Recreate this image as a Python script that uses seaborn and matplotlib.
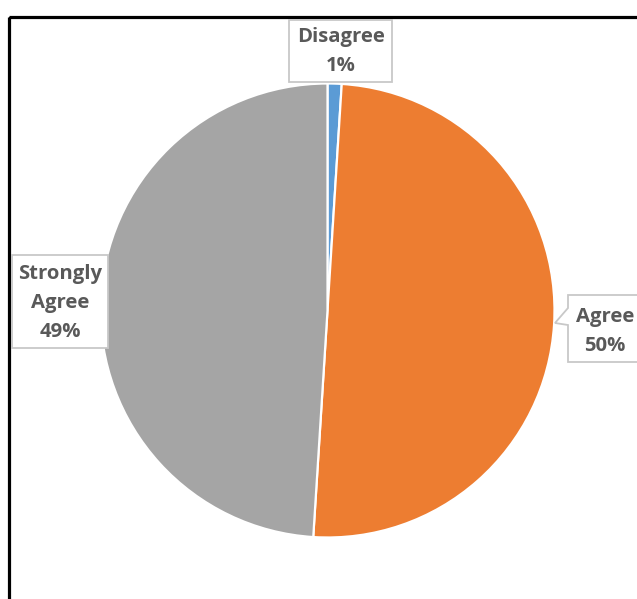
import numpy as np
import matplotlib
matplotlib.use("Agg")
import matplotlib.pyplot as plt
import seaborn as sns
from matplotlib.patches import Rectangle, Polygon

# ==============================
# DATA
# ==============================
labels = ["Disagree", "Agree", "Strongly Agree"]
shares = [1, 50, 49]
colors = ["#5B9BD5", "#ED7D31", "#A5A5A5"]

sns.set_theme(style="white")
plt.rcParams['font.family'] = ['Open Sans', 'DejaVu Sans']

W, H = 637, 599
fig = plt.figure(figsize=(W / 100, H / 100), dpi=100)
fig.patch.set_facecolor("white")

# pie axes: centre (327.5, 310.5) px, radius 227 px
cx, cy, r = 327.5, 310.5, 227
ax = fig.add_axes([(cx - r) / W, (H - cy - r) / H, 2 * r / W, 2 * r / H])
ax.pie(shares, colors=colors, startangle=90, counterclock=False,
       wedgeprops=dict(edgecolor="white", linewidth=1.6))
ax.set_xlim(-1, 1)
ax.set_ylim(-1, 1)
ax.axis("off")

# overlay in pixel coordinates for frame and labels
ov = fig.add_axes([0, 0, 1, 1], zorder=5)
ov.set_xlim(0, W)
ov.set_ylim(H, 0)
ov.axis("off")
ov.patch.set_alpha(0)

ov.add_patch(Rectangle((9, 17), 800, 800, fill=False, edgecolor="black",
                       linewidth=2.3, clip_on=False))

txt = dict(color="#595959", fontsize=14.6, fontweight="bold",
           ha="center", va="center")
box = dict(facecolor="white", edgecolor="#C8C8C8", linewidth=1.3)


def pct(v):
    return f"{v}%"


# Disagree
ov.add_patch(Rectangle((289, 20), 103, 62, **box))
ov.text(341, 37, labels[0], **txt)
ov.text(341, 66, pct(shares[0]), **txt)

# Strongly Agree
ov.add_patch(Rectangle((12, 255), 96, 93, **box))
ov.text(60, 274, "Strongly", **txt)
ov.text(60, 303, "Agree", **txt)
ov.text(60, 332, pct(shares[2]), **txt)

# Agree (callout with pointer)
ov.add_patch(Polygon([(568, 295), (650, 295), (650, 362), (568, 362),
                      (568, 325), (555, 323), (568, 308)],
                     closed=True, **box))
ov.text(605, 317, labels[1], **txt)
ov.text(605, 346, pct(shares[1]), **txt)

fig.savefig("out.png", dpi=100)
